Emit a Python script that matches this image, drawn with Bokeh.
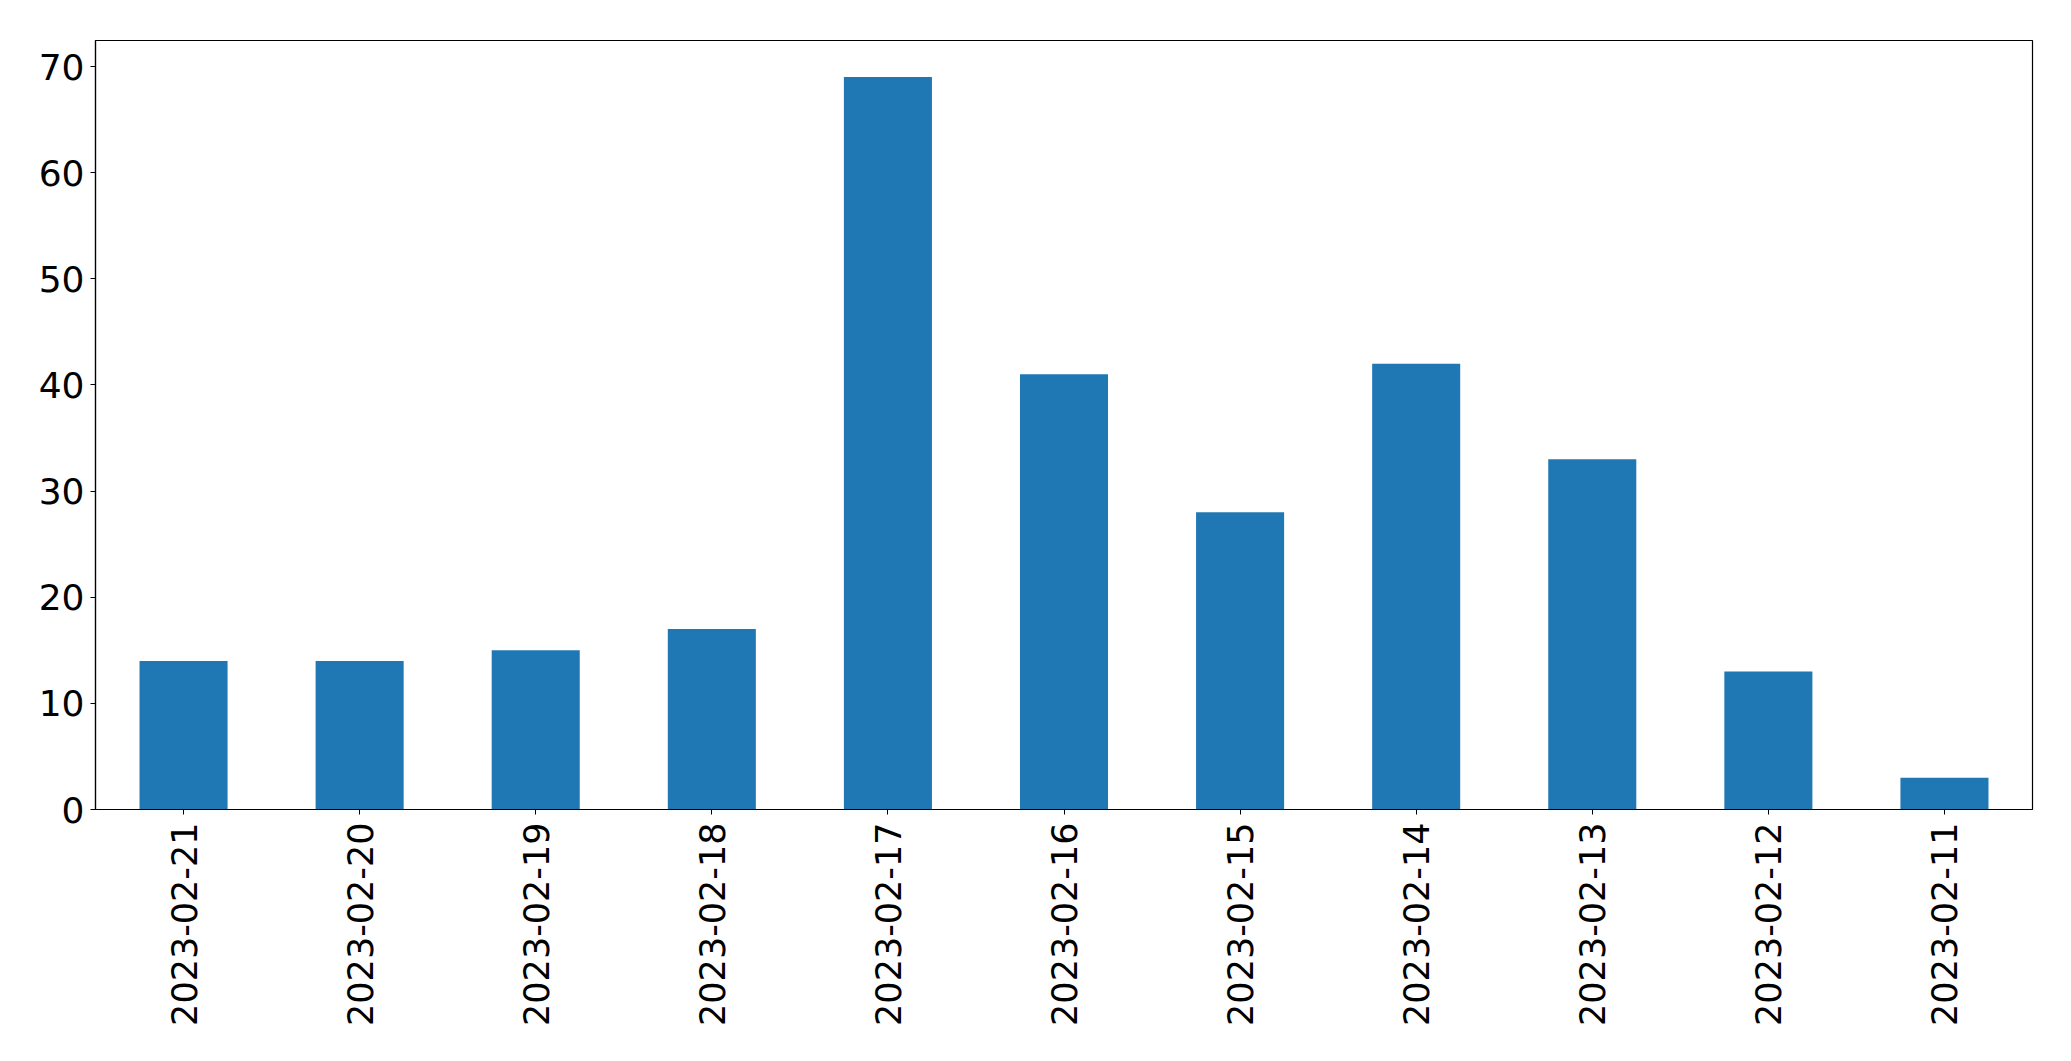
import math
from bokeh.plotting import figure
from bokeh.models import Range1d, FactorRange, FixedTicker, ColumnDataSource
from bokeh.embed import file_html
from bokeh.resources import INLINE

dates = ["2023-02-21", "2023-02-20", "2023-02-19", "2023-02-18", "2023-02-17",
         "2023-02-16", "2023-02-15", "2023-02-14", "2023-02-13", "2023-02-12",
         "2023-02-11"]
counts = [14, 14, 15, 17, 69, 41, 28, 42, 33, 13, 3]
y_ticks = [0, 10, 20, 30, 40, 50, 60, 70]

src = ColumnDataSource(dict(date=dates, count=counts))

p = figure(width=2055, height=1045, output_backend="svg", toolbar_location=None,
           x_range=FactorRange(factors=dates, range_padding=0),
           y_range=Range1d(0, max(counts) * 1.05),
           min_border_left=95, min_border_right=23, min_border_top=40,
           min_border_bottom=236)

p.vbar(x="date", top="count", width=0.5, source=src, color="#1f77b4", line_color=None)

p.xgrid.visible = False
p.ygrid.visible = False
p.outline_line_color = "black"
p.outline_line_width = 1.2
p.outline_line_alpha = 1

for ax in (p.xaxis, p.yaxis):
    ax.axis_line_color = "black"
    ax.axis_line_width = 1.2
    ax.major_tick_line_color = "black"
    ax.major_tick_out = 5
    ax.major_tick_in = 0
    ax.minor_tick_line_color = None
    ax.major_label_text_font = "DejaVu Sans"
    ax.major_label_text_color = "black"

p.xaxis.major_label_text_font_size = "35px"
p.yaxis.major_label_text_font_size = "36px"
p.yaxis.ticker = FixedTicker(ticks=y_ticks)
p.yaxis.major_label_standoff = 6
p.xaxis.major_label_orientation = math.pi / 2
p.xaxis.major_label_standoff = 8

open("out.html", "w").write(file_html(p, INLINE))
